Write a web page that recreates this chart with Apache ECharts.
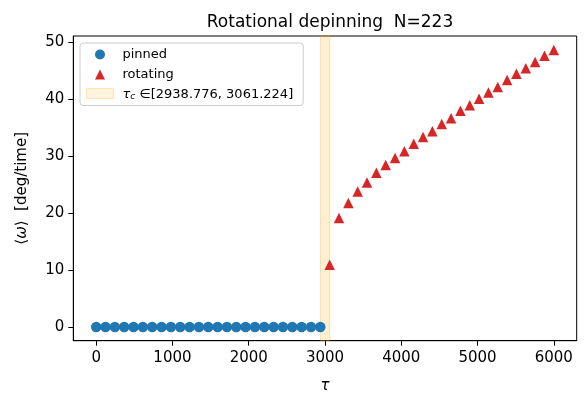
<!DOCTYPE html>
<html>
<head>
<meta charset="utf-8">
<script src="https://cdn.jsdelivr.net/npm/echarts@6/dist/echarts.min.js"></script>
<style>html,body{margin:0;padding:0;background:#fff;}#c{width:587px;height:407px;}</style>
</head>
<body>
<div id="c"></div>
<script>
const tauPinned = [0, 122.449, 244.898, 367.347, 489.796, 612.245, 734.694, 857.143, 979.592, 1102.041,
  1224.490, 1346.939, 1469.388, 1591.837, 1714.286, 1836.735, 1959.184, 2081.633, 2204.082, 2326.531,
  2448.980, 2571.429, 2693.878, 2816.327, 2938.776];
const omegaPinned = [0,0,0,0,0,0,0,0,0,0,0,0,0,0,0,0,0,0,0,0,0,0,0,0,0];
const tauRotating = [3061.224, 3183.673, 3306.122, 3428.571, 3551.020, 3673.469, 3795.918, 3918.367, 4040.816,
  4163.265, 4285.714, 4408.163, 4530.612, 4653.061, 4775.510, 4897.959, 5020.408, 5142.857, 5265.306,
  5387.755, 5510.204, 5632.653, 5755.102, 5877.551, 6000];
const omegaRotating = [10.95, 19.15, 21.8, 23.8, 25.4, 27.1, 28.5, 29.7, 30.9, 32.2, 33.4, 34.4, 35.7,
  36.7, 38.0, 39.0, 40.1, 41.2, 42.2, 43.4, 44.5, 45.5, 46.6, 47.7, 48.7];
const tauCritical = [2938.776, 3061.224];
const xTicks = [0, 1000, 2000, 3000, 4000, 5000, 6000];
const yTicks = [0, 10, 20, 30, 40, 50];

const spanName = 'tau_c';
const FONT = 'DejaVu Sans';

const chart = echarts.init(document.getElementById('c'), null, {renderer: 'canvas'});
chart.setOption({
  backgroundColor: '#fff',
  animation: false,
  textStyle: {fontFamily: FONT, color: '#000'},
  title: {
    text: 'Rotational depinning  N=223',
    left: 325, top: 9, textAlign: 'center',
    textStyle: {fontFamily: FONT, fontSize: 17, fontWeight: 'normal', color: '#000'}
  },
  grid: {left: 73.3, right: 10.3, top: 36, bottom: 66.3, show: true, borderColor: '#000', borderWidth: 1, backgroundColor: 'transparent'},
  xAxis: {
    type: 'value', min: -300, max: 6300,
    name: 'τ', nameLocation: 'middle', nameGap: 38,
    nameTextStyle: {fontFamily: FONT, fontSize: 15, fontStyle: 'italic', color: '#000'},
    axisLine: {show: true, onZero: false, lineStyle: {color: '#000', width: 1}},
    axisTick: {show: true, inside: false, length: 5, lineStyle: {color: '#000'}, customValues: xTicks},
    axisLabel: {customValues: xTicks, margin: 10, fontSize: 15, fontFamily: FONT, color: '#000',
      formatter: function (v) { return String(v); }},
    splitLine: {show: false}
  },
  yAxis: {
    type: 'value', min: -2.4, max: 51.15,
    name: '⟨{i|ω}⟩  [deg/time]', nameLocation: 'middle', nameGap: 44,
    nameTextStyle: {fontFamily: FONT, fontSize: 15, color: '#000',
      rich: {i: {fontFamily: FONT, fontSize: 15, fontStyle: 'italic', color: '#000'}}},
    axisLine: {show: true, onZero: false, lineStyle: {color: '#000', width: 1}},
    axisTick: {show: true, inside: false, length: 5, lineStyle: {color: '#000'}, customValues: yTicks},
    axisLabel: {customValues: yTicks, margin: 9, fontSize: 15, fontFamily: FONT, color: '#000',
      formatter: function (v) { return String(v); }},
    splitLine: {show: false}
  },
  legend: {
    orient: 'vertical', left: 80, top: 43,
    padding: [5, 10, 4, 6], itemGap: 7, itemWidth: 27, itemHeight: 10,
    symbolKeepAspect: true,
    backgroundColor: 'rgba(255,255,255,0.8)', borderColor: '#cccccc', borderWidth: 1, borderRadius: 3,
    textStyle: {fontFamily: FONT, fontSize: 13, color: '#000', padding: [0, 0, 0, 4],
      rich: {
        t: {fontFamily: FONT, fontSize: 13, fontStyle: 'italic', color: '#000', verticalAlign: 'bottom', lineHeight: 16},
        s: {fontFamily: FONT, fontSize: 9, fontStyle: 'italic', color: '#000', verticalAlign: 'bottom', lineHeight: 14},
        n: {fontFamily: FONT, fontSize: 13, color: '#000', verticalAlign: 'bottom', lineHeight: 16}
      }},
    formatter: function (name) {
      if (name === spanName) {
        return '{t|τ}{s|c}{n| ∈[' + tauCritical[0].toFixed(3) + ', ' + tauCritical[1].toFixed(3) + ']}';
      }
      return name;
    },
    data: [
      {name: 'pinned', icon: 'circle'},
      {name: 'rotating', icon: 'path://M0,0 M27,10 M13.5,0 L18.5,10 L8.5,10 Z'},
      {name: spanName, icon: 'rect', itemStyle: {color: 'rgba(255,165,0,0.17)', borderColor: 'rgba(255,165,0,0.3)', borderWidth: 1}}
    ]
  },
  series: [
    {
      name: spanName, type: 'scatter', data: [], z: 1,
      itemStyle: {color: 'rgba(255,165,0,0.17)'},
      markArea: {
        silent: true,
        itemStyle: {color: 'rgba(255,165,0,0.17)', borderColor: 'rgba(255,165,0,0.3)', borderWidth: 1},
        data: [[{xAxis: tauCritical[0]}, {xAxis: tauCritical[1]}]]
      }
    },
    {
      name: 'pinned', type: 'scatter', z: 3,
      symbol: 'circle', symbolSize: 10.5,
      itemStyle: {color: '#1f77b4', opacity: 1},
      data: tauPinned.map((t, i) => [t, omegaPinned[i]])
    },
    {
      name: 'rotating', type: 'scatter', z: 3,
      symbol: 'triangle', symbolSize: 10.5, symbolKeepAspect: true,
      itemStyle: {color: '#d62728', opacity: 1},
      data: tauRotating.map((t, i) => [t, omegaRotating[i]])
    }
  ]
});
</script>
</body>
</html>
